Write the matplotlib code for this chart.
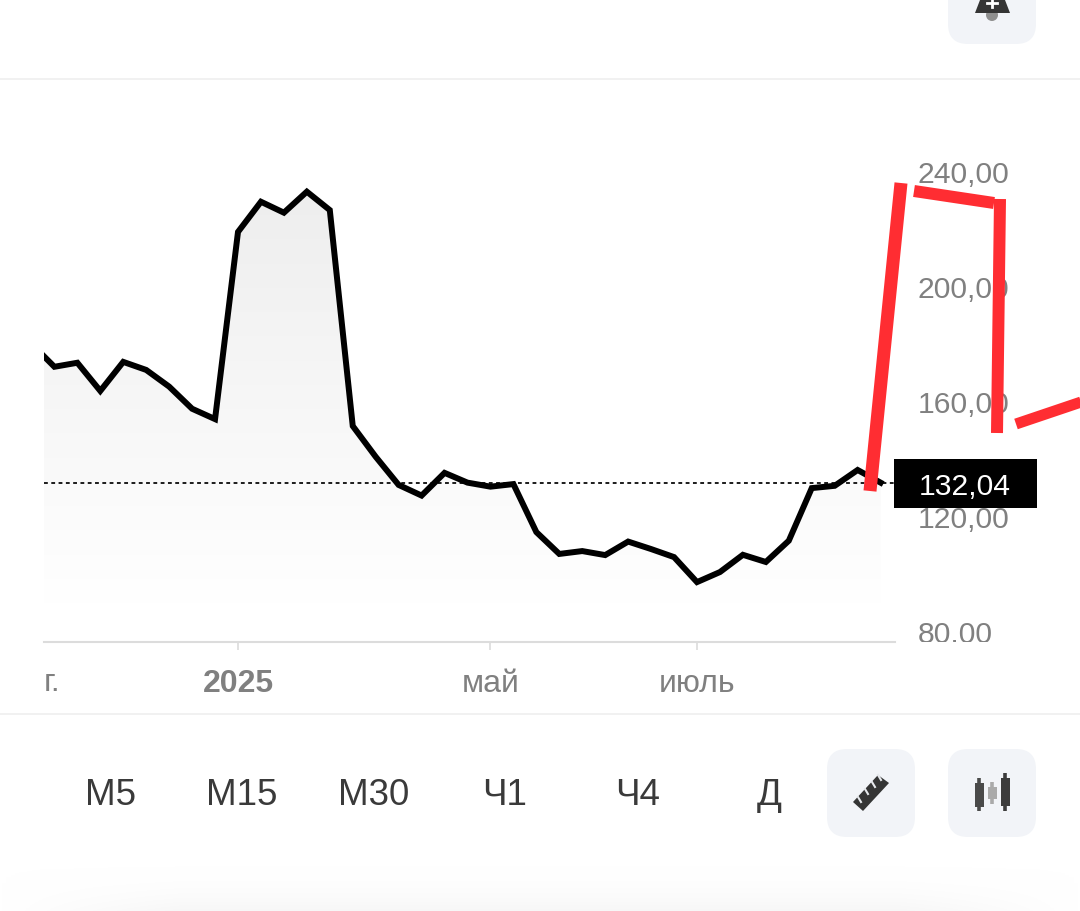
import numpy as np
import matplotlib
matplotlib.use("Agg")
import matplotlib.pyplot as plt
from matplotlib.colors import LinearSegmentedColormap
from matplotlib.patches import FancyBboxPatch, Polygon, Circle, Rectangle
from matplotlib.transforms import ScaledTranslation

plt.rcParams["font.family"] = ["Liberation Sans", "DejaVu Sans"]

# price per bar, first one is cut by the left edge
bars = list(range(-1, 37))
prices = [
    180.6, 172.6, 174.0, 164.2, 174.3, 171.5, 165.7, 158.0, 154.4, 219.5,
    230.0, 226.2, 233.5, 227.1, 152.0, 141.3, 131.5, 127.8, 135.7, 132.3,
    130.9, 131.8, 115.1, 107.5, 108.5, 107.1, 111.8, 109.2, 106.4, 97.7,
    101.2, 107.2, 104.7, 112.1, 130.4, 131.2, 136.7, 132.3,
]
last_price = 132.04

y_ticks = [80, 120, 160, 200, 240]
y_labels = ["80,00", "120,00", "160,00", "200,00", "240,00"]
x_ticks = [8, 19, 28]
x_labels = ["2025", "май", "июль"]
clipped_label = "г."
timeframes = ["М5", "М15", "М30", "Ч1", "Ч4", "Д"]
timeframe_x = [110, 242, 374, 505, 638, 769]

# red marker strokes drawn over the screenshot (x0, y0, x1, y1, width)
red_strokes = [
    (870, 491, 901, 183, 13),
    (914, 191, 994, 203, 12),
    (1000, 199, 997, 433, 12),
    (1016, 424, 1090, 399, 11),
]

W, H = 1080, 912
LEFT, RIGHT, TOP, BOTTOM = 44, 895, 101, 643
PX_PER_BAR = 22.95
BAR0_X = 54.4
PX_PER_UNIT = 2.875
Y80 = 634

GREY = "#808080"
LINE_GREY = "#dcdcdc"
BTN = "#f2f4f8"
ICON = "#353535"

fig = plt.figure(figsize=(W / 100, H / 100), dpi=100, facecolor="white")

# =====================================================================
# CHART
# =====================================================================

ax = fig.add_axes([LEFT / W, 1 - BOTTOM / H, (RIGHT - LEFT) / W, (BOTTOM - TOP) / H])
ax.set_facecolor("none")

xlim = ((LEFT - BAR0_X) / PX_PER_BAR, (RIGHT - BAR0_X) / PX_PER_BAR)
ylim = (80 - (BOTTOM - Y80) / PX_PER_UNIT, 80 + (Y80 - TOP) / PX_PER_UNIT)

poly = ax.fill_between(bars, prices, ylim[0], color="none")
cmap = LinearSegmentedColormap.from_list("fade", ["#eeeeee", "#ffffff"])
im = ax.imshow(
    np.linspace(0, 1, 256).reshape(-1, 1),
    cmap=cmap,
    extent=(xlim[0], xlim[1], 90, 234),
    aspect="auto",
    zorder=1,
)
im.set_clip_path(poly.get_paths()[0], transform=ax.transData)

ax.axhline(last_price, color="black", lw=1.25, dashes=(2.2, 2.0), zorder=2)
ax.plot(
    bars,
    prices,
    color="black",
    lw=4.3,
    solid_joinstyle="miter",
    zorder=3,
)

ax.set_xlim(xlim)
ax.set_ylim(ylim)

for side in ["top", "left", "right"]:
    ax.spines[side].set_visible(False)
ax.spines["bottom"].set_color(LINE_GREY)
ax.spines["bottom"].set_linewidth(1.5)

ax.yaxis.tick_right()
ax.set_yticks(y_ticks, y_labels)
ax.tick_params(axis="y", length=0, pad=16.5, labelsize=21.7, labelcolor=GREY)
ax.set_xticks(x_ticks, x_labels)
ax.tick_params(axis="x", length=6, width=1.2, color=LINE_GREY, pad=12.5, labelsize=23, labelcolor=GREY)
ax.get_xticklabels()[0].set_fontweight("bold")

# labels sit a little above their tick level
nudge = ScaledTranslation(0, 2 / 100, fig.dpi_scale_trans)
for label in ax.get_yticklabels():
    label.set_transform(label.get_transform() + nudge)

# =====================================================================
# SCREEN AROUND THE CHART
# =====================================================================

ui = fig.add_axes([0, 0, 1, 1], zorder=5)
ui.axis("off")
ui.patch.set_alpha(0)

# the 80,00 label is cut by the axis line
cut = Rectangle((0, -1), W, BOTTOM, transform=ui.transData)
ax.get_yticklabels()[0].set_clip_path(cut)
ax.get_yticklabels()[0].set_clip_on(True)

ui.plot([0, W], [79, 79], color="#efefef", lw=1.2)
ui.plot([0, W], [714, 714], color="#efefef", lw=1.2)

ui.text(44, 682, clipped_label, color=GREY, fontsize=23, ha="left", va="center")

# soft shadow at the bottom of the screen
shade = np.outer(np.linspace(0, 1, 64) ** 2, np.minimum(1, np.sin(np.linspace(0, np.pi, 256)) * 2))
ui.imshow(
    shade,
    cmap=LinearSegmentedColormap.from_list("shade", ["#ffffff", "#f7f7f7"]),
    extent=(0, W, H, 865),
    aspect="auto",
    zorder=0,
)


def button(x0, y0, x1, y1):
    ui.add_patch(
        FancyBboxPatch(
            (x0 + 20, y0 + 20),
            x1 - x0 - 40,
            y1 - y0 - 40,
            boxstyle="round,pad=20,rounding_size=20",
            fc=BTN,
            ec="none",
            zorder=1,
        )
    )


button(948, -44, 1036, 44)
button(827, 749, 915, 837)
button(948, 749, 1036, 837)

# bell
ui.add_patch(Circle((992, 15), 6, fc="#8f8f8f", ec="none", zorder=2))
ui.add_patch(Polygon([(980, 0), (1005, 0), (1010, 13), (975, 13)], fc=ICON, ec="none", zorder=3))
ui.plot([992, 992], [0, 7], color="white", lw=2, zorder=4)
ui.plot([987, 997], [3, 3], color="white", lw=2, zorder=4)

# ruler
ui.add_patch(
    Polygon([(853, 802), (878, 775), (889, 783), (863, 811)], fc=ICON, ec="none", zorder=2)
)
for nx, ny in [(858, 797), (865, 789), (872, 782), (878, 775)]:
    ui.plot([nx, nx + 3], [ny, ny + 5], color="#e6e8ec", lw=1.5, zorder=3)

# candles (x, wick top, wick bottom, body top, body bottom, colour)
for cx, w0, w1, b0, b1, col in [
    (979, 778, 811, 783, 807, "#4a4a4a"),
    (992, 782, 804, 787, 799, "#aaaaaa"),
    (1005, 773, 811, 778, 806, "#3c3c3c"),
]:
    ui.plot([cx, cx], [w0, w1], color=col, lw=2.6, solid_capstyle="butt", zorder=2)
    ui.add_patch(Rectangle((cx - 4.5, b0), 9, b1 - b0, fc=col, ec="none", zorder=3))

for name, tx in zip(timeframes, timeframe_x):
    ui.text(tx, 795, name, color="#3a3a3a", fontsize=26.5, ha="center", va="center")

# last price box
ui.add_patch(Rectangle((894, 459), 143, 49, fc="black", ec="none", zorder=6))
ui.text(965, 486, f"{last_price:.2f}".replace(".", ","), color="white", fontsize=21.7,
        ha="center", va="center", zorder=7)

for x0, y0, x1, y1, width in red_strokes:
    ui.plot([x0, x1], [y0, y1], color="#ff2d32", lw=width * 0.72, solid_capstyle="butt", zorder=8)

# one pixel lower than the plain 0..H range, lines up with the screenshot
ui.set_xlim(0, W)
ui.set_ylim(H - 1, -1)

fig.savefig("out.png", dpi=100)
